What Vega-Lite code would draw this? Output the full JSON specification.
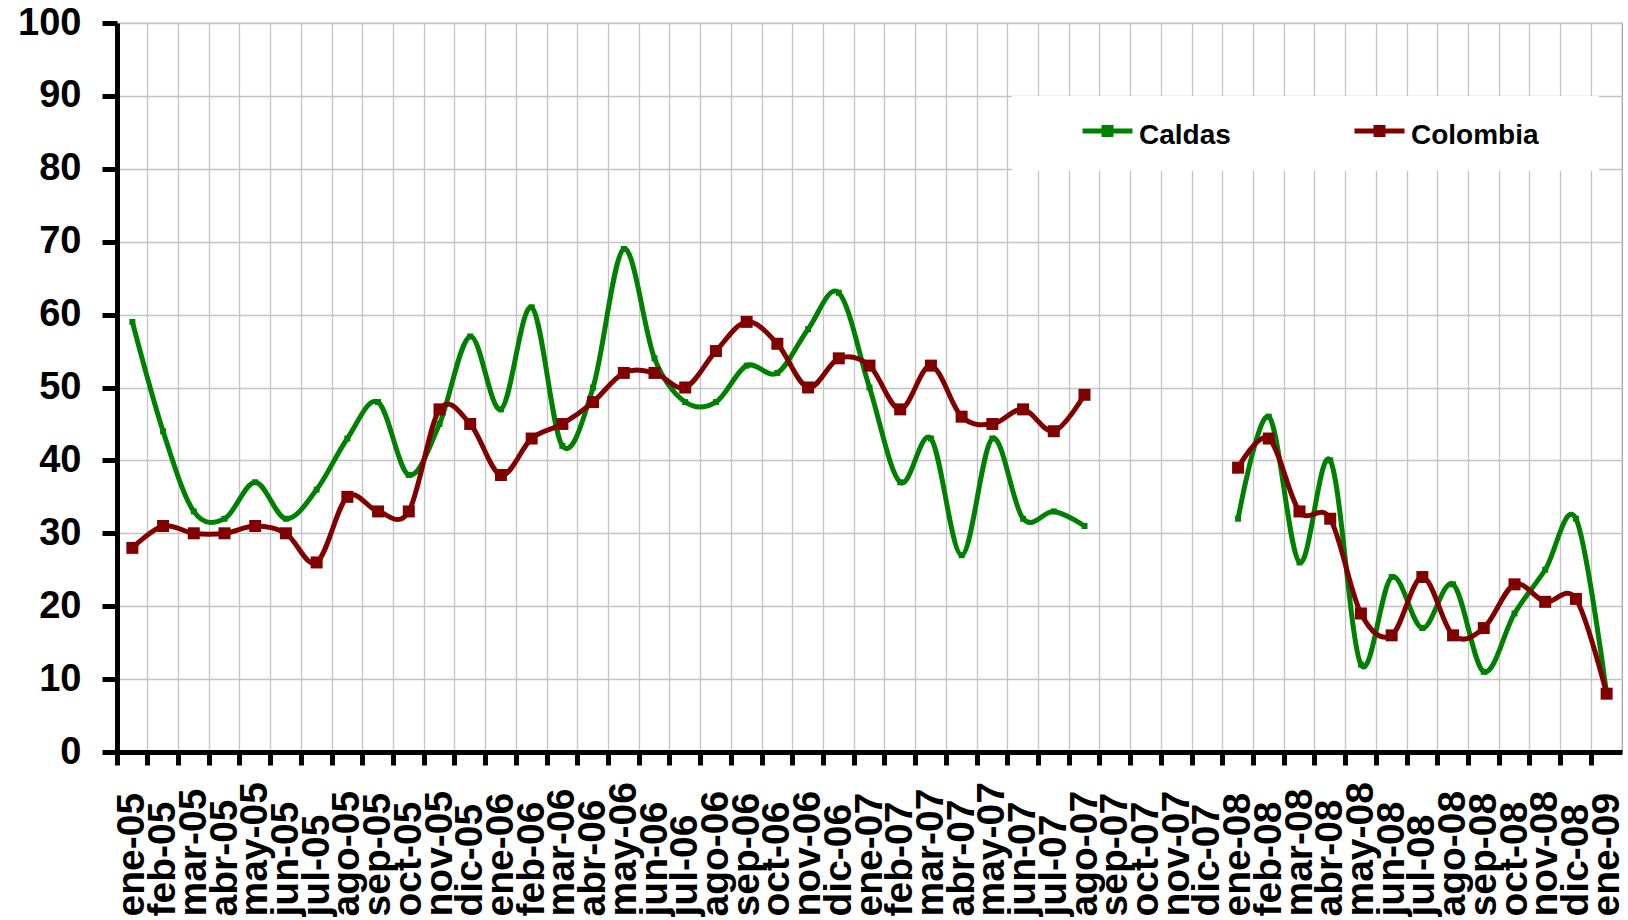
{
  "$schema": "https://vega.github.io/schema/vega-lite/v6.json",
  "width": 1505,
  "height": 729,
  "autosize": {"type": "none"},
  "padding": {"left": 117, "top": 23, "right": 6, "bottom": 168},
  "background": "white",
  "config": {
    "font": "Liberation Sans",
    "view": {"stroke": "#a0a0a0", "strokeWidth": 1.2},
    "axis": {
      "labelFont": "Liberation Sans",
      "labelFontWeight": "bold",
      "labelColor": "#000000",
      "domainColor": "#000000",
      "domainWidth": 5,
      "tickColor": "#000000",
      "tickWidth": 5,
      "gridColor": "#c4c4c4",
      "gridWidth": 1.3,
      "title": null
    }
  },
  "data": {
    "values": [
      {"mes":"ene-05","serie":"Caldas","valor":59},{"mes":"ene-05","serie":"Colombia","valor":28},
      {"mes":"feb-05","serie":"Caldas","valor":44},{"mes":"feb-05","serie":"Colombia","valor":31},
      {"mes":"mar-05","serie":"Caldas","valor":33},{"mes":"mar-05","serie":"Colombia","valor":30},
      {"mes":"abr-05","serie":"Caldas","valor":32},{"mes":"abr-05","serie":"Colombia","valor":30},
      {"mes":"may-05","serie":"Caldas","valor":37},{"mes":"may-05","serie":"Colombia","valor":31},
      {"mes":"jun-05","serie":"Caldas","valor":32},{"mes":"jun-05","serie":"Colombia","valor":30},
      {"mes":"jul-05","serie":"Caldas","valor":36},{"mes":"jul-05","serie":"Colombia","valor":26},
      {"mes":"ago-05","serie":"Caldas","valor":43},{"mes":"ago-05","serie":"Colombia","valor":35},
      {"mes":"sep-05","serie":"Caldas","valor":48},{"mes":"sep-05","serie":"Colombia","valor":33},
      {"mes":"oct-05","serie":"Caldas","valor":38},{"mes":"oct-05","serie":"Colombia","valor":33},
      {"mes":"nov-05","serie":"Caldas","valor":45},{"mes":"nov-05","serie":"Colombia","valor":47},
      {"mes":"dic-05","serie":"Caldas","valor":57},{"mes":"dic-05","serie":"Colombia","valor":45},
      {"mes":"ene-06","serie":"Caldas","valor":47},{"mes":"ene-06","serie":"Colombia","valor":38},
      {"mes":"feb-06","serie":"Caldas","valor":61},{"mes":"feb-06","serie":"Colombia","valor":43},
      {"mes":"mar-06","serie":"Caldas","valor":42},{"mes":"mar-06","serie":"Colombia","valor":45},
      {"mes":"abr-06","serie":"Caldas","valor":50},{"mes":"abr-06","serie":"Colombia","valor":48},
      {"mes":"may-06","serie":"Caldas","valor":69},{"mes":"may-06","serie":"Colombia","valor":52},
      {"mes":"jun-06","serie":"Caldas","valor":54},{"mes":"jun-06","serie":"Colombia","valor":52},
      {"mes":"jul-06","serie":"Caldas","valor":48},{"mes":"jul-06","serie":"Colombia","valor":50},
      {"mes":"ago-06","serie":"Caldas","valor":48},{"mes":"ago-06","serie":"Colombia","valor":55},
      {"mes":"sep-06","serie":"Caldas","valor":53},{"mes":"sep-06","serie":"Colombia","valor":59},
      {"mes":"oct-06","serie":"Caldas","valor":52},{"mes":"oct-06","serie":"Colombia","valor":56},
      {"mes":"nov-06","serie":"Caldas","valor":58},{"mes":"nov-06","serie":"Colombia","valor":50},
      {"mes":"dic-06","serie":"Caldas","valor":63},{"mes":"dic-06","serie":"Colombia","valor":54},
      {"mes":"ene-07","serie":"Caldas","valor":50},{"mes":"ene-07","serie":"Colombia","valor":53},
      {"mes":"feb-07","serie":"Caldas","valor":37},{"mes":"feb-07","serie":"Colombia","valor":47},
      {"mes":"mar-07","serie":"Caldas","valor":43},{"mes":"mar-07","serie":"Colombia","valor":53},
      {"mes":"abr-07","serie":"Caldas","valor":27},{"mes":"abr-07","serie":"Colombia","valor":46},
      {"mes":"may-07","serie":"Caldas","valor":43},{"mes":"may-07","serie":"Colombia","valor":45},
      {"mes":"jun-07","serie":"Caldas","valor":32},{"mes":"jun-07","serie":"Colombia","valor":47},
      {"mes":"jul-07","serie":"Caldas","valor":33},{"mes":"jul-07","serie":"Colombia","valor":44},
      {"mes":"ago-07","serie":"Caldas","valor":31},{"mes":"ago-07","serie":"Colombia","valor":49},
      {"mes":"sep-07","serie":"Caldas","valor":null},{"mes":"sep-07","serie":"Colombia","valor":null},
      {"mes":"oct-07","serie":"Caldas","valor":null},{"mes":"oct-07","serie":"Colombia","valor":null},
      {"mes":"nov-07","serie":"Caldas","valor":null},{"mes":"nov-07","serie":"Colombia","valor":null},
      {"mes":"dic-07","serie":"Caldas","valor":null},{"mes":"dic-07","serie":"Colombia","valor":null},
      {"mes":"ene-08","serie":"Caldas","valor":32},{"mes":"ene-08","serie":"Colombia","valor":39},
      {"mes":"feb-08","serie":"Caldas","valor":46},{"mes":"feb-08","serie":"Colombia","valor":43},
      {"mes":"mar-08","serie":"Caldas","valor":26},{"mes":"mar-08","serie":"Colombia","valor":33},
      {"mes":"abr-08","serie":"Caldas","valor":40},{"mes":"abr-08","serie":"Colombia","valor":32},
      {"mes":"may-08","serie":"Caldas","valor":12},{"mes":"may-08","serie":"Colombia","valor":19},
      {"mes":"jun-08","serie":"Caldas","valor":24},{"mes":"jun-08","serie":"Colombia","valor":16},
      {"mes":"jul-08","serie":"Caldas","valor":17},{"mes":"jul-08","serie":"Colombia","valor":24},
      {"mes":"ago-08","serie":"Caldas","valor":23},{"mes":"ago-08","serie":"Colombia","valor":16},
      {"mes":"sep-08","serie":"Caldas","valor":11},{"mes":"sep-08","serie":"Colombia","valor":17},
      {"mes":"oct-08","serie":"Caldas","valor":19},{"mes":"oct-08","serie":"Colombia","valor":23},
      {"mes":"nov-08","serie":"Caldas","valor":25},{"mes":"nov-08","serie":"Colombia","valor":20.6},
      {"mes":"dic-08","serie":"Caldas","valor":32},{"mes":"dic-08","serie":"Colombia","valor":21},
      {"mes":"ene-09","serie":"Caldas","valor":8},{"mes":"ene-09","serie":"Colombia","valor":8}
    ]
  },
  "encoding": {
    "x": {
      "field": "mes",
      "type": "nominal",
      "sort": null,
      "bandPosition": 0.5,
      "scale": {"type": "band", "paddingInner": 0, "paddingOuter": 0},
      "axis": {
        "bandPosition": 0,
        "grid": true,
        "tickSize": 13,
        "labelFontSize": 39,
        "labelAngle": -90,
        "labelAlign": "left",
        "labelBaseline": "middle",
        "labelPadding": 151,
        "labelOverlap": false
      }
    },
    "y": {
      "field": "valor",
      "type": "quantitative",
      "scale": {"domain": [0, 100], "nice": false, "zero": true},
      "axis": {
        "values": [0, 10, 20, 30, 40, 50, 60, 70, 80, 90, 100],
        "grid": true,
        "tickSize": 15,
        "labelFontSize": 38,
        "labelPadding": 21,
        "labelAlign": "right",
        "labelBaseline": "middle"
      }
    }
  },
  "layer": [
    {
      "mark": {"type": "line", "interpolate": "cardinal", "tension": 0, "strokeWidth": 5, "invalid": "break-paths-show-domains"},
      "encoding": {
        "color": {
          "field": "serie",
          "type": "nominal",
          "scale": {"domain": ["Caldas", "Colombia"], "range": ["#008000", "#800000"]},
          "legend": {
            "title": " ",
            "titleOrient": "right",
            "titlePadding": 39,
            "titleFontSize": 10,
            "orient": "none",
            "legendX": 895,
            "legendY": 73,
            "direction": "horizontal",
            "fillColor": "white",
            "padding": 21,
            "clipHeight": 28,
            "symbolType": "M-1,0H1M-0.14,-0.14H0.14V0.14H-0.14Z",
            "symbolSize": 2500,
            "symbolStrokeWidth": 5,
            "symbolOffset": 47,
            "labelOffset": 4,
            "columnPadding": 74,
            "labelFont": "Liberation Sans",
            "labelFontWeight": "bold",
            "labelFontSize": 28,
            "labelColor": "#000000",
            "encode": {
              "labels": {"update": {"dy": {"value": 5}}},
              "symbols": {"update": {"dy": {"value": 2}}}
            }
          }
        }
      }
    },
    {
      "transform": [{"filter": "datum.serie == 'Caldas'"}],
      "mark": {"type": "point", "filled": true, "shape": "square", "size": 36, "color": "#008000", "opacity": 1}
    },
    {
      "transform": [{"filter": "datum.serie == 'Colombia'"}],
      "mark": {"type": "point", "filled": true, "shape": "square", "size": 144, "color": "#800000", "opacity": 1}
    }
  ]
}
